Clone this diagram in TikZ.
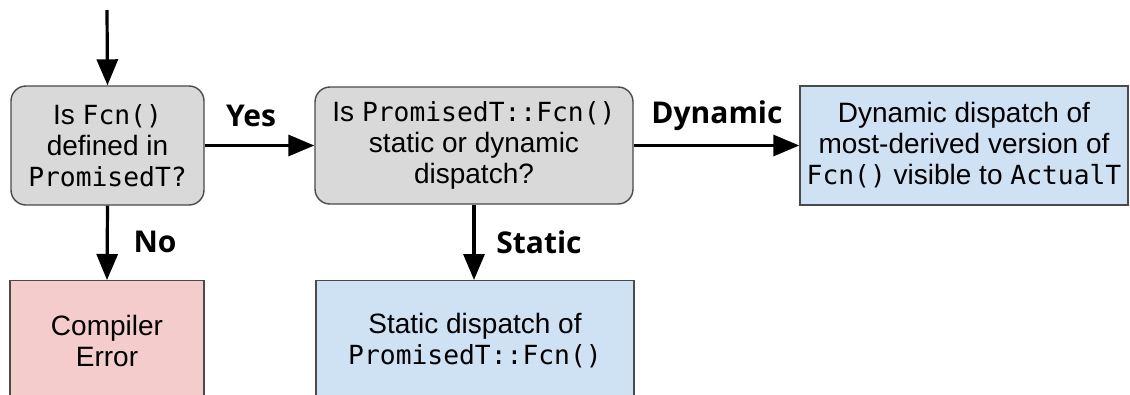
\documentclass[tikz,border=0pt]{standalone}
\usepackage{fontspec}
\setmainfont{Liberation Sans}
\setmonofont{DejaVu Sans Mono}[Scale=0.94]
\newfontfamily\lblfont{Open Sans}
\usetikzlibrary{arrows.meta}
\definecolor{grayfill}{HTML}{D9D9D9}
\definecolor{bluefill}{HTML}{CFE2F3}
\definecolor{pinkfill}{HTML}{F4CCCC}
\definecolor{edgegray}{HTML}{4A4A4A}
\tikzset{
  box/.style={draw=edgegray, line width=1.4pt, align=center, inner sep=0pt,
    font=\fontsize{28}{31}\selectfont, text=black},
  decision/.style={box, fill=grayfill, rounded corners=15pt},
  bluebox/.style={box, fill=bluefill},
  pinkbox/.style={box, fill=pinkfill},
  flow/.style={line width=3.2pt, -{Triangle[length=26pt,width=21pt]}},
  lbl/.style={font=\lblfont\bfseries\fontsize{30}{31}\selectfont, text=black, inner sep=0pt}
}
\begin{document}
\begin{tikzpicture}[x=1pt,y=-1pt]
\useasboundingbox (0,0) rectangle (1130,394);
\clip (0,0) rectangle (1130,394);
\node[decision, minimum width=193pt, minimum height=119pt] (a) at (107.5,145.5)
  {Is \texttt{Fcn()}\\defined in\\\texttt{PromisedT?}};
\node[decision, minimum width=318pt, minimum height=117pt] (b) at (474,145.5)
  {Is \texttt{PromisedT::Fcn()}\\static or dynamic\\dispatch?};
\node[bluebox, minimum width=328pt, minimum height=119pt] (c) at (964,145.5)
  {Dynamic dispatch of\\most-derived version of\\\texttt{Fcn()} visible to \texttt{ActualT}};
\node[pinkbox, minimum width=194pt, minimum height=120pt, anchor=north] (d) at (107,280)
  {Compiler\\Error};
\node[bluebox, minimum width=318pt, minimum height=120pt, anchor=north] (e) at (475,280)
  {Static dispatch of\\\texttt{PromisedT::Fcn()}};
\coordinate (start) at (107,10);
\draw[flow] (start) -- (a.north);
\draw[flow] (a.east) -- (b.west);
\draw[flow] (b.east) -- (c.west);
\draw[flow] (a.south) -- (d.north);
\draw[flow] (b.south) -- (b.south |- e.north);
\node[lbl] (yes) at (251,116) {Yes};
\node[lbl] (dyn) at (717,116) {Dynamic};
\node[lbl] (no) at (155,242) {No};
\node[lbl] (stat) at (539,242) {Static};
\end{tikzpicture}
\end{document}
